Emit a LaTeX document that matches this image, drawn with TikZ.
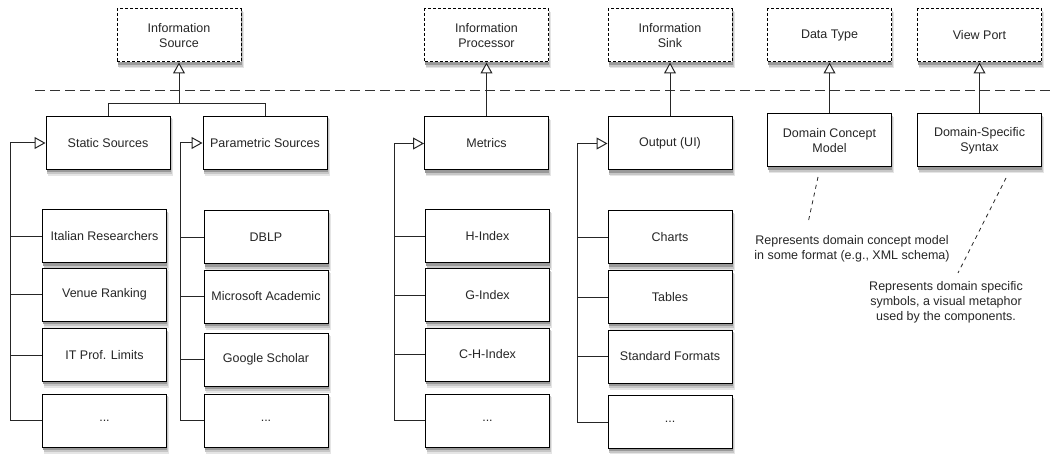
\documentclass[tikz,border=0pt]{standalone}
\usepackage{fontspec}
\setmainfont{Liberation Sans}
\usetikzlibrary{arrows.meta}
\newcommand\shbox[5][box]{%
  \fill[shadeA] ({#3-62+1.5},{#4-26.5+3}) rectangle ({#3+62+2.5},{#4+26.5+6.5});
  \fill[shadeB] ({#3-62+1},{#4-26.5+2}) rectangle ({#3+62+1.7},{#4+26.5+4.6});
  \fill[shadeC] ({#3-62+0.5},{#4-26.5+1}) rectangle ({#3+62+0.9},{#4+26.5+2.8});
  \node[#1] (#2) at (#3,#4) {#5};}
\begin{document}
\begin{tikzpicture}[x=1pt,y=-1pt,
  box/.style={draw, line width=1pt, fill=white, minimum width=124pt, minimum height=53pt,
    inner sep=0pt, align=center, text=black!85, font=\fontsize{12.5}{15}\selectfont},
  abox/.style={box, dash pattern=on 3pt off 2pt},
  wire/.style={line width=1pt, black!85},
  gen/.style={wire, -{Triangle[open,length=11pt,width=12pt,fill=white]}},
  sep/.style={line width=1pt, black!80, dash pattern=on 10pt off 5pt},
  note/.style={align=center, text=black!85, font=\fontsize{12.5}{15}\selectfont, inner sep=0pt},
  noteline/.style={line width=0.8pt, black!85, dash pattern=on 4pt off 4pt},
  shadeA/.style={fill=black!10},
  shadeB/.style={fill=black!22},
  shadeC/.style={fill=black!40}]
\useasboundingbox (0,0) rectangle (1054,454);

% abstract top boxes
\shbox[abox]{isrc}{179}{35.5}{Information\\Source}
\shbox[abox]{iproc}{486.5}{35.5}{Information\\Processor}
\shbox[abox]{isink}{670}{35.5}{Information\\Sink}
\shbox[abox]{dtype}{829.5}{35.5}{Data Type}
\shbox[abox]{vport}{979.5}{35.5}{View Port}

% separator
\coordinate (sepa) at (35,91);
\coordinate (sepb) at (1054,91);
\draw[sep] (sepa) -- (sepb);

% concrete boxes
\shbox{ss}{108}{143}{Static Sources}
\shbox{ps}{265}{143}{Parametric Sources}
\shbox{met}{486.5}{143.5}{Metrics}
\shbox{out}{670}{143.5}{Output (UI)}
\shbox{dcm}{829.5}{140.5}{Domain Concept\\Model}
\shbox{dss}{979.5}{140.5}{Domain-Specific\\Syntax}

% column 1
\shbox{a1}{104.5}{236.5}{Italian Researchers}
\shbox{a2}{104.5}{294.5}{Venue Ranking}
\shbox{a3}{104.5}{355}{IT Prof. Limits}
\shbox{a4}{104.5}{420.5}{...}
% column 2
\shbox{b1}{266}{237.5}{DBLP}
\shbox{b2}{266}{296.5}{Microsoft Academic}
\shbox{b3}{266}{359.5}{Google Scholar}
\shbox{b4}{266}{420.5}{...}
% column 3
\shbox{c1}{487.5}{236.5}{H-Index}
\shbox{c2}{487.5}{295}{G-Index}
\shbox{c3}{487.5}{354.5}{C-H-Index}
\shbox{c4}{487.5}{420.5}{...}
% column 4
\shbox{d1}{670}{237.5}{Charts}
\shbox{d2}{670}{297}{Tables}
\shbox{d3}{670}{356.5}{Standard Formats}
\shbox{d4}{670}{422}{...}

% generalisations to abstract boxes
\coordinate (j1) at (179,104);
\draw[gen] (ss.north) |- (j1) -- (isrc.south);
\draw[wire] (ps.north) |- (j1);
\draw[gen] (met.north) -- (iproc.south);
\draw[gen] (out.north) -- (isink.south);
\draw[gen] (dcm.north) -- (dtype.south);
\draw[gen] (dss.north) -- (vport.south);

% bracket rails
\coordinate (ra) at (10,0);
\coordinate (rb) at (180,0);
\coordinate (rc) at (394,0);
\coordinate (rd) at (577,0);
\draw[gen] (a4.west) -| (ra |- ss.west) -- (ss.west);
\draw[gen] (b4.west) -| (rb |- ps.west) -- (ps.west);
\draw[gen] (c4.west) -| (rc |- met.west) -- (met.west);
\draw[gen] (d4.west) -| (rd |- out.west) -- (out.west);
\foreach \n/\r in {a1/ra,a2/ra,a3/ra,b1/rb,b2/rb,b3/rb,c1/rc,c2/rc,c3/rc,d1/rd,d2/rd,d3/rd}
  \draw[wire] (\n.west) -- (\n.west -| \r);

% notes
\node[note] (t1) at (852,249) {Represents domain concept model\\in some format (e.g., XML schema)};
\node[note] (t2) at (946,302) {Represents domain specific\\symbols, a visual metaphor\\used by the components.};
\coordinate (n1a) at (818,177);
\coordinate (n1b) at (808,223);
\coordinate (n2a) at (1006,178);
\coordinate (n2b) at (958,273);
\draw[noteline] (n1a) -- (n1b);
\draw[noteline] (n2a) -- (n2b);
\end{tikzpicture}
\end{document}
